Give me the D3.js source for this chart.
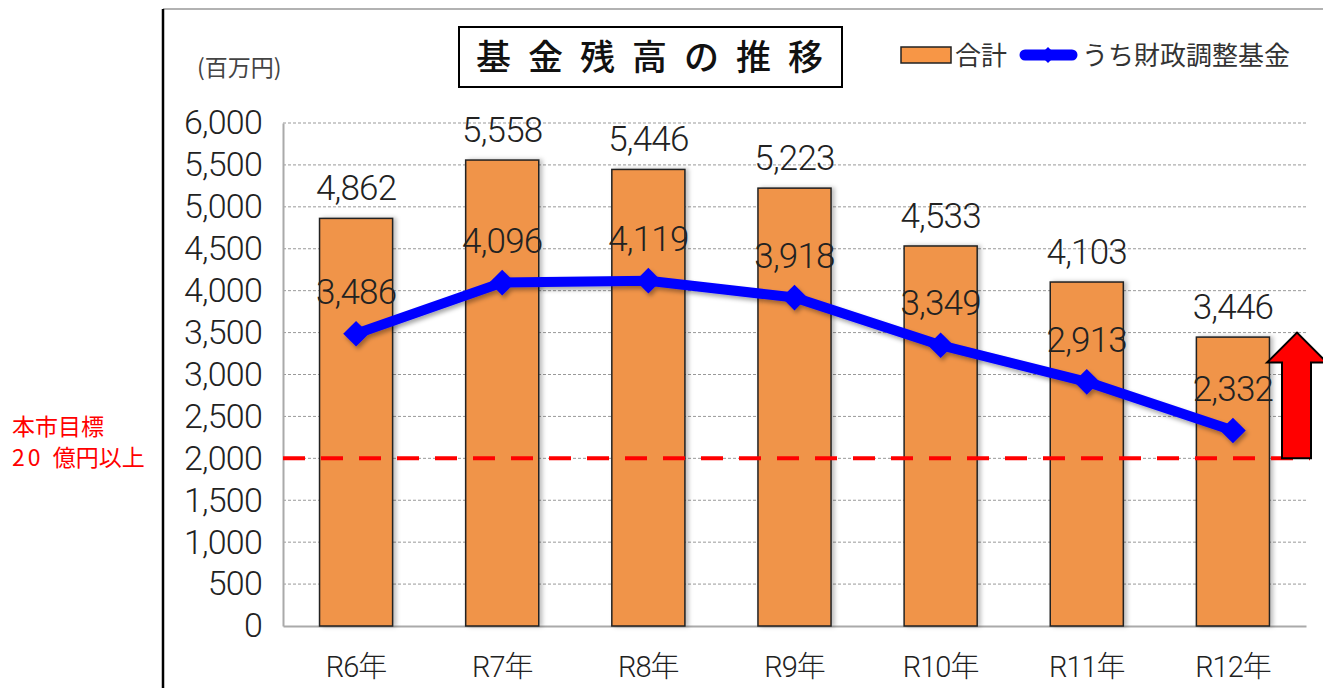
<!DOCTYPE html>
<html>
<head>
<meta charset="utf-8">
<script src="https://cdn.jsdelivr.net/npm/d3@7"></script>
<style>
  body { margin: 0; background: #fff; }
  svg { display: block; }
  .num { font-family: "Roboto", "Noto Sans CJK JP", sans-serif; font-weight: 300; fill: #222; }
  .jp { font-family: "Noto Sans CJK JP", sans-serif; }
</style>
</head>
<body>
<div id="vis1"></div>
<script>
var categories = ["R6年", "R7年", "R8年", "R9年", "R10年", "R11年", "R12年"];
var totalValues = [4862, 5558, 5446, 5223, 4533, 4103, 3446];
var fundValues = [3486, 4096, 4119, 3918, 3349, 2913, 2332];
var yTicks = [0, 500, 1000, 1500, 2000, 2500, 3000, 3500, 4000, 4500, 5000, 5500, 6000];
var targetValue = 2000;
var arrowTo = 3500;

var width = 1323, height = 688;
var plot = {left: 283, right: 1306, top: 123, bottom: 626};

var svg = d3.select("#vis1").append("svg")
    .attr("width", width)
    .attr("height", height);

var defs = svg.append("defs");
defs.append("filter").attr("id", "shadow")
    .attr("x", "-20%").attr("y", "-20%").attr("width", "140%").attr("height", "160%")
  .append("feDropShadow")
    .attr("dx", 2).attr("dy", 3).attr("stdDeviation", 2)
    .attr("flood-color", "#000").attr("flood-opacity", 0.35);
defs.append("filter").attr("id", "barshadow")
    .attr("x", "-20%").attr("y", "-10%").attr("width", "140%").attr("height", "120%")
  .append("feDropShadow")
    .attr("dx", 3).attr("dy", 0).attr("stdDeviation", 2)
    .attr("flood-color", "#000").attr("flood-opacity", 0.25);

var xScale = d3.scaleBand()
    .domain(categories)
    .range([plot.left, plot.right])
    .paddingInner(0.5)
    .paddingOuter(0.25);

var yScale = d3.scaleLinear()
    .domain([0, 6000])
    .range([plot.bottom, plot.top]);

// frame lines of the sheet
svg.append("line")
    .attr("x1", 163).attr("x2", width).attr("y1", 9).attr("y2", 9)
    .attr("stroke", "#999").attr("stroke-width", 1.5);
svg.append("line")
    .attr("x1", 163).attr("x2", 163).attr("y1", 9).attr("y2", height)
    .attr("stroke", "#000").attr("stroke-width", 2.5);

// gridlines
svg.append("g")
    .selectAll("line")
    .data(yTicks.filter(function(d) { return d > 0; }))
    .enter().append("line")
    .attr("x1", plot.left).attr("x2", plot.right)
    .attr("y1", function(d) { return yScale(d); })
    .attr("y2", function(d) { return yScale(d); })
    .attr("stroke", "#999").attr("stroke-width", 1)
    .attr("stroke-dasharray", "3,2");

// y axis
var yAxis = svg.append("g")
    .attr("transform", "translate(" + plot.left + ",0)")
    .call(d3.axisLeft(yScale).tickValues(yTicks).tickFormat(d3.format(",")).tickSize(0).tickPadding(21));
yAxis.select(".domain").attr("stroke", "#aaa").attr("stroke-width", 2);
yAxis.selectAll("text")
    .attr("class", "num")
    .style("font-size", "34px")
    .style("letter-spacing", "-0.8px")
    .attr("fill", "#222");

// x axis
var xAxis = svg.append("g")
    .attr("transform", "translate(0," + plot.bottom + ")")
    .call(d3.axisBottom(xScale).tickSize(0).tickPadding(30));
xAxis.select(".domain").attr("stroke", "#aaa").attr("stroke-width", 2);
xAxis.selectAll("text")
    .attr("class", "num")
    .style("font-size", "29px")
    .style("letter-spacing", "-1px")
    .attr("fill", "#222");

// bars
svg.append("g")
    .selectAll("rect")
    .data(totalValues)
    .enter().append("rect")
    .attr("x", function(d, i) { return xScale(categories[i]); })
    .attr("y", function(d) { return yScale(d); })
    .attr("width", xScale.bandwidth())
    .attr("height", function(d) { return plot.bottom - yScale(d); })
    .attr("fill", "#F0944A")
    .attr("stroke", "#222")
    .attr("stroke-width", 1.5)
    .attr("filter", "url(#barshadow)");

// target line
svg.append("line")
    .attr("x1", plot.left).attr("x2", 1310)
    .attr("y1", yScale(targetValue)).attr("y2", yScale(targetValue))
    .attr("stroke", "#FF0000").attr("stroke-width", 4)
    .attr("stroke-dasharray", "22,16");

// fund line
var cx = function(i) { return xScale(categories[i]) + xScale.bandwidth() / 2; };
var line = d3.line()
    .x(function(d, i) { return cx(i); })
    .y(function(d) { return yScale(d); });

var lineG = svg.append("g").attr("filter", "url(#shadow)");
lineG.append("path")
    .datum(fundValues)
    .attr("d", line)
    .attr("fill", "none")
    .attr("stroke", "#0000FF")
    .attr("stroke-width", 10)
    .attr("stroke-linejoin", "round");
lineG.selectAll(".dot")
    .data(fundValues)
    .enter().append("path")
    .attr("d", d3.symbol().type(d3.symbolSquare).size(330))
    .attr("transform", function(d, i) { return "translate(" + cx(i) + "," + yScale(d) + ") rotate(45)"; })
    .attr("fill", "#0000FF");

// arrow
var ax0 = 1282, ax1 = 1311, hx0 = 1267, hx1 = 1327;
var arrowTop = yScale(arrowTo), arrowBase = yScale(targetValue), headBase = arrowTop + 30;
svg.append("path")
    .attr("d", "M" + ax0 + "," + arrowBase + " L" + ax0 + "," + headBase + " L" + hx0 + "," + headBase +
        " L" + ((hx0 + hx1) / 2) + "," + arrowTop + " L" + hx1 + "," + headBase + " L" + ax1 + "," + headBase +
        " L" + ax1 + "," + arrowBase + " Z")
    .attr("fill", "#FF0000")
    .attr("stroke", "#000")
    .attr("stroke-width", 2)
    .attr("stroke-linejoin", "miter");

// bar value labels
svg.append("g")
    .selectAll("text")
    .data(totalValues)
    .enter().append("text")
    .attr("class", "num")
    .attr("x", function(d, i) { return cx(i); })
    .attr("y", function(d) { return yScale(d) - 18; })
    .attr("text-anchor", "middle")
    .style("font-size", "35px")
    .style("letter-spacing", "-0.8px")
    .text(d3.format(","));

// line value labels
svg.append("g")
    .selectAll("text")
    .data(fundValues)
    .enter().append("text")
    .attr("class", "num")
    .attr("x", function(d, i) { return cx(i); })
    .attr("y", function(d) { return yScale(d) - 30; })
    .attr("text-anchor", "middle")
    .style("font-size", "35px")
    .style("letter-spacing", "-0.8px")
    .text(d3.format(","));

// unit
svg.append("text")
    .attr("class", "jp")
    .attr("x", 197).attr("y", 76)
    .style("font-size", "23px")
    .attr("fill", "#444")
    .text("(百万円)");

// title
svg.append("rect")
    .attr("x", 459).attr("y", 27).attr("width", 383).attr("height", 60)
    .attr("fill", "#fff").attr("stroke", "#000").attr("stroke-width", 2);
svg.append("text")
    .attr("class", "jp")
    .attr("x", 476).attr("y", 70)
    .style("font-size", "35px")
    .style("font-weight", 500)
    .style("letter-spacing", "17px")
    .attr("fill", "#111")
    .text("基金残高の推移");

// legend
svg.append("rect")
    .attr("x", 901).attr("y", 47).attr("width", 50).attr("height", 16)
    .attr("fill", "#F79646").attr("stroke", "#222").attr("stroke-width", 1.5);
svg.append("text")
    .attr("class", "jp")
    .attr("x", 955).attr("y", 65)
    .style("font-size", "26px")
    .attr("fill", "#333")
    .text("合計");
svg.append("line")
    .attr("x1", 1025).attr("x2", 1072).attr("y1", 55).attr("y2", 55)
    .attr("stroke", "#0000FF").attr("stroke-width", 11).attr("stroke-linecap", "round");
svg.append("path")
    .attr("d", d3.symbol().type(d3.symbolSquare).size(130))
    .attr("transform", "translate(1048,55) rotate(45)")
    .attr("fill", "#0000FF");
svg.append("text")
    .attr("class", "jp")
    .attr("x", 1082).attr("y", 65)
    .style("font-size", "26px")
    .attr("fill", "#333")
    .text("うち財政調整基金");

// target annotation
svg.append("text")
    .attr("class", "jp")
    .attr("x", 12).attr("y", 435)
    .style("font-size", "23px")
    .attr("fill", "#FF0000")
    .text("本市目標");
var t2 = svg.append("text")
    .attr("class", "jp")
    .attr("x", 12).attr("y", 466)
    .style("font-size", "23px")
    .attr("fill", "#FF0000");
t2.append("tspan").style("letter-spacing", "3px").text("20");
t2.append("tspan").text(" 億円以上").attr("dx", 4);
</script>
</body>
</html>
